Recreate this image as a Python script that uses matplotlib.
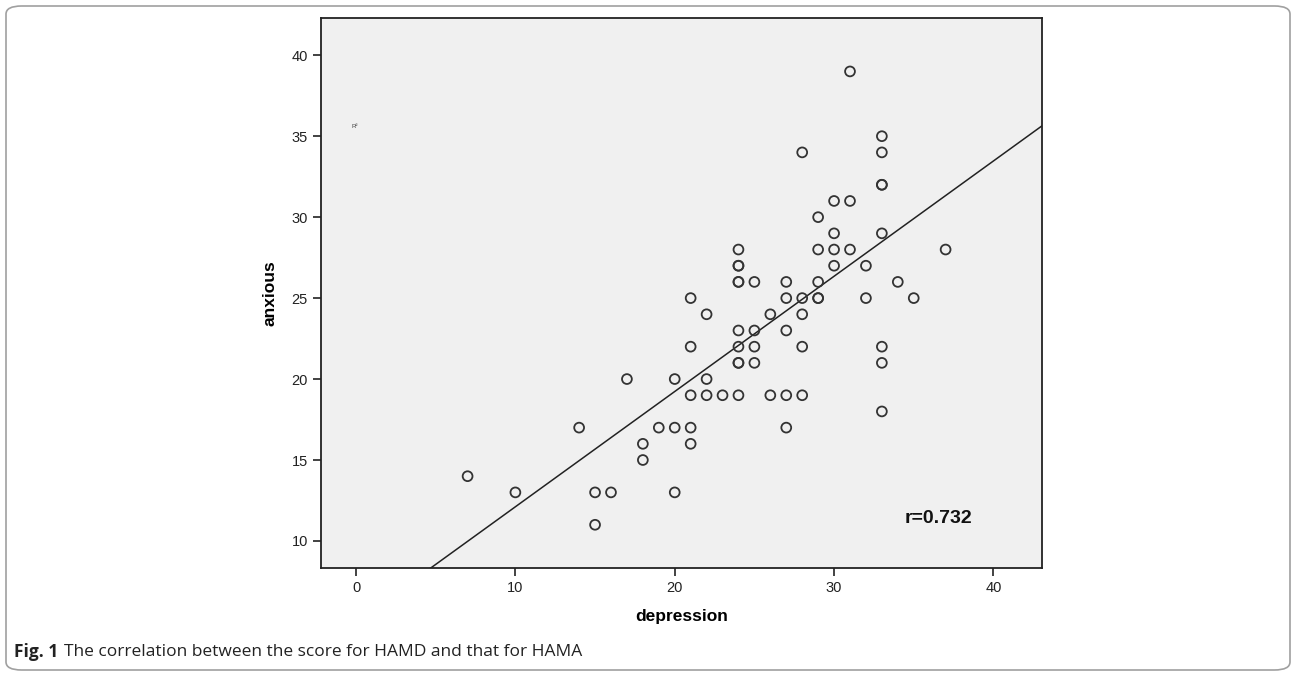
import numpy as np
import matplotlib
matplotlib.use("Agg")
import matplotlib.pyplot as plt
from matplotlib.patches import FancyBboxPatch

depression = [7, 10, 14, 15, 15, 16, 17, 18, 18, 19, 20, 20, 20,
              21, 21, 21, 21, 21, 22, 22, 22, 23,
              24, 24, 24, 24, 24, 24, 24, 24, 24, 24,
              25, 25, 25, 25, 26, 26, 27, 27, 27, 27, 27,
              28, 28, 28, 28, 28, 29, 29, 29, 29, 29,
              30, 30, 30, 30, 31, 31, 31, 32, 32,
              33, 33, 33, 33, 33, 33, 33, 33, 34, 35, 37]
anxious = [14, 13, 17, 13, 11, 13, 20, 16, 15, 17, 20, 17, 13,
           25, 22, 19, 17, 16, 24, 20, 19, 19,
           28, 27, 27, 26, 26, 23, 22, 21, 21, 19,
           26, 23, 22, 21, 24, 19, 26, 25, 23, 19, 17,
           34, 25, 24, 22, 19, 30, 28, 26, 25, 25,
           31, 29, 28, 27, 39, 31, 28, 27, 25,
           35, 34, 32, 32, 29, 22, 21, 18, 26, 25, 28]
x_ticks = [0, 10, 20, 30, 40]
y_ticks = [10, 15, 20, 25, 30, 35, 40]
r_label = "r=0.732"

plt.rcParams['font.family'] = ['Liberation Sans', 'DejaVu Sans']

fig = plt.figure(figsize=(12.96, 6.76), dpi=100)
fig.patch.set_facecolor("white")

border = FancyBboxPatch((6 / 1296, 6 / 676), 1284 / 1296, 664 / 676,
                        boxstyle="round,pad=0,rounding_size=0.012",
                        transform=fig.transFigure, facecolor="none",
                        edgecolor="#a0a0a0", linewidth=1.2)
fig.patches.append(border)

ax = fig.add_axes([321 / 1296, 1 - 568 / 676, 721 / 1296, 550 / 676])
ax.set_facecolor("#f0f0f0")
ax.set_xlim(-2.2, 43.05)
ax.set_ylim(8.33, 42.3)

ax.scatter(depression, anxious, s=50, facecolors="none",
           edgecolors="#333333", linewidths=1.3, zorder=3)

slope, intercept = np.polyfit(depression, anxious, 1)
xs = np.array([-2.2, 43.05])
ax.plot(xs, slope * xs + intercept, color="#222222", linewidth=1.1, zorder=2)

ax.set_xticks(x_ticks)
ax.set_yticks(y_ticks)
ax.tick_params(direction="out", length=6, width=1.2, labelsize=10.5,
               colors="#222222")
for sp in ax.spines.values():
    sp.set_linewidth(1.3)
    sp.set_color("#222222")

ax.set_xlabel("depression", fontsize=12.5, fontweight="bold", labelpad=10)
ax.set_ylabel("anxious", fontsize=12.5, fontweight="bold", labelpad=10)

ax.text(34.4, 11.4, r_label, fontsize=14, fontweight="bold",
        color="#111111", va="center")
ax.text(-0.3, 35.6, "R²", fontsize=4.5, color="#444444", va="center")

fig.text(14 / 1296, 1 - 652 / 676, "Fig. 1", fontsize=12.5,
         fontweight="bold", family="Open Sans", va="center", color="#222222")
fig.text(64 / 1296, 1 - 652 / 676,
         "The correlation between the score for HAMD and that for HAMA",
         fontsize=12.5, family="Open Sans", va="center", color="#222222")

fig.savefig("out.png", dpi=100)
